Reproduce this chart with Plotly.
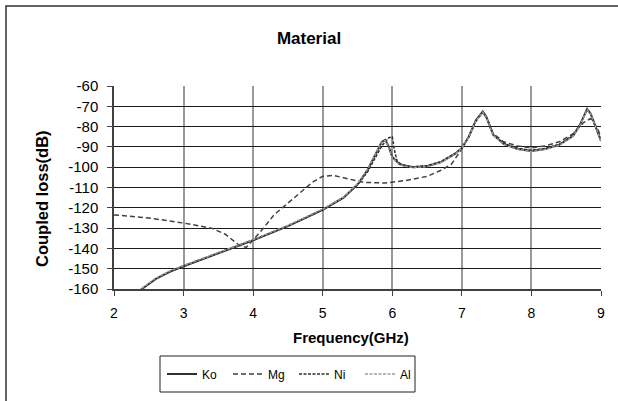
import plotly.graph_objects as go

# ---- data ----
ko_x = [2.35, 2.4, 2.6, 2.8, 3.0, 3.3, 3.6, 4.0, 4.5, 5.0, 5.3, 5.5, 5.65, 5.75, 5.85, 5.9,
        5.95, 6.0, 6.1, 6.3, 6.5, 6.7, 6.9, 7.0, 7.1, 7.2, 7.3, 7.35, 7.45, 7.6, 7.8, 8.0,
        8.2, 8.4, 8.6, 8.7, 8.8, 8.85, 8.95, 9.0]
ko_y = [-161.5, -160, -155, -151.5, -148.8, -145, -141, -136, -129, -121, -115, -108.5, -101, -94,
        -87.5, -86.5, -90, -95, -98.5, -100, -99.5, -97.5, -93.5, -90.5, -85, -77, -72.5, -75,
        -84, -88.5, -91, -92, -91, -89, -84.5, -79, -71.3, -73.5, -82.5, -87]

mg_x = [2.0, 2.5, 3.0, 3.4, 3.6, 3.8, 3.9, 4.0, 4.1, 4.3, 4.6, 4.85, 5.0, 5.15, 5.4, 5.6,
        5.9, 6.2, 6.5, 6.7, 6.85, 7.0, 7.1, 7.2, 7.3, 7.35, 7.45, 7.6, 7.8, 8.0, 8.2, 8.4,
        8.6, 8.75, 8.85, 8.95, 9.0]
mg_y = [-123.5, -125, -127.5, -130, -133, -138.5, -139.5, -136, -132, -123.5, -115, -107.5,
        -104.5, -104, -106, -107.5, -107.8, -106.5, -104.5, -101.5, -98.5, -91, -85, -77.5,
        -73, -75.5, -83.5, -87.5, -89.5, -90.5, -89.5, -87.5, -83.5, -78, -76, -81, -85]

ni_x = [2.35, 2.4, 2.6, 2.8, 3.0, 3.3, 3.6, 4.0, 4.5, 5.0, 5.3, 5.5, 5.65, 5.75, 5.85, 5.95,
        6.0, 6.03, 6.07, 6.15, 6.3, 6.5, 6.7, 6.9, 7.0, 7.1, 7.2, 7.3, 7.35, 7.45, 7.6, 7.8,
        8.0, 8.2, 8.4, 8.6, 8.7, 8.8, 8.85, 8.95, 9.0]
ni_y = [-161.5, -160, -155, -151.5, -148.5, -144.8, -140.8, -135.8, -128.8, -120.8, -114.8,
        -108.8, -102, -96, -89.5, -85.5, -85, -91.5, -97, -99.2, -99.8, -99.2, -97.2, -93.2,
        -90.5, -85, -77.2, -72.8, -75.2, -84, -88.2, -90.7, -91.7, -90.7, -88.7, -84.2, -78.8,
        -71.8, -73.8, -82.5, -87]

al_x = [2.35, 2.4, 2.6, 2.8, 3.0, 3.3, 3.6, 4.0, 4.5, 5.0, 5.3, 5.5, 5.65, 5.75, 5.85, 5.9,
        5.95, 6.0, 6.1, 6.3, 6.5, 6.7, 6.9, 7.0, 7.1, 7.2, 7.3, 7.35, 7.45, 7.6, 7.8, 8.0,
        8.2, 8.4, 8.6, 8.7, 8.8, 8.85, 8.95, 9.0]
al_y = [-161.2, -159.7, -154.7, -151.2, -148.5, -144.7, -140.7, -135.7, -128.7, -120.7, -114.7,
        -108.2, -100.7, -93.7, -87.3, -86.8, -90.5, -95.3, -98.8, -100.2, -99.7, -97.7, -93.7,
        -90.5, -85.2, -77.3, -72.8, -75.3, -84.3, -88.7, -91.2, -92.2, -91.2, -89.2, -84.7,
        -79.2, -71.6, -73.7, -82.7, -87.2]

x_ticks = [2, 3, 4, 5, 6, 7, 8, 9]
y_ticks = [-160, -150, -140, -130, -120, -110, -100, -90, -80, -70, -60]
y_tick_labels = ["-160", "-150", "-140", "-130", "-120", "-110", "-100", "-90", "-80", "-70", "-60"]

FONT = "Liberation Sans, Arial, sans-serif"

fig = go.Figure()
fig.add_trace(go.Scatter(x=ko_x, y=ko_y, name="Ko", mode="lines",
                         line=dict(color="#303030", width=2, dash="solid")))
fig.add_trace(go.Scatter(x=mg_x, y=mg_y, name="Mg", mode="lines",
                         line=dict(color="#404040", width=1.5, dash="5px,3px")))
fig.add_trace(go.Scatter(x=ni_x, y=ni_y, name="Ni", mode="lines",
                         line=dict(color="#303030", width=1.5, dash="3px,1.5px")))
fig.add_trace(go.Scatter(x=al_x, y=al_y, name="Al", mode="lines",
                         line=dict(color="#9a9a9a", width=1.5, dash="3px,1.5px")))

L, R, T, B = 114, 17, 86, 112
W, H = 618, 401
pw, ph = W - L - R, H - T - B


def px_x(px):
    return (px - L) / pw


def px_y(py):
    return (T + ph - py) / ph


fig.update_layout(
    width=W, height=H,
    margin=dict(l=L, r=R, t=T, b=B, pad=0),
    paper_bgcolor="white", plot_bgcolor="white",
    font=dict(family=FONT, color="black", size=13),
    title=dict(text="<b>Material</b>", x=0.5, xref="container", xanchor="center",
               y=1 - 38 / H, yref="container", yanchor="middle",
               font=dict(size=17, family=FONT, color="black")),
    xaxis=dict(range=[2, 9], tickvals=x_ticks, ticktext=[str(v) for v in x_ticks],
               showgrid=True, gridcolor="#9a9a9a", gridwidth=1.5,
               showline=True, linecolor="#404040", linewidth=1.5,
               ticks="outside", ticklen=5, tickcolor="#404040", tickwidth=1,
               zeroline=False, ticklabelstandoff=5,
               tickfont=dict(size=14, family=FONT)),
    yaxis=dict(range=[-160, -60], tickvals=y_ticks, ticktext=y_tick_labels,
               showgrid=True, gridcolor="#1a1a1a", gridwidth=1,
               showline=True, linecolor="#404040", linewidth=1.5,
               ticks="outside", ticklen=5, tickcolor="#404040", tickwidth=1,
               zeroline=False, ticklabelstandoff=6,
               tickfont=dict(size=15, family=FONT)),
    legend=dict(orientation="h", x=px_x(162), xanchor="left",
                y=px_y(374), yanchor="middle",
                borderwidth=0, bgcolor="rgba(0,0,0,0)",
                font=dict(size=12, family=FONT), itemwidth=30,
                entrywidth=21, entrywidthmode="pixels",
                tracegroupgap=0),
    showlegend=True,
    annotations=[
        dict(text="<b>Frequency(GHz)</b>", xref="paper", yref="paper",
             x=px_x(351), y=px_y(337), xanchor="center", yanchor="middle",
             showarrow=False, font=dict(size=15, family=FONT, color="black")),
        dict(text="<b>Coupled loss(dB)</b>", xref="paper", yref="paper",
             x=px_x(42), y=px_y(199), xanchor="center", yanchor="middle",
             textangle=-90, showarrow=False,
             font=dict(size=16.5, family=FONT, color="black")),
    ],
)

# legend box
fig.add_shape(type="rect", xref="paper", yref="paper",
              x0=px_x(160), x1=px_x(415), y0=px_y(392), y1=px_y(356),
              line=dict(color="#202020", width=1), fillcolor="rgba(0,0,0,0)")

# outer chart-area border: left and top edges only (the others fall outside the picture)
bx0, by0, by1, bx1 = px_x(6), px_y(H + 30), px_y(6), px_x(W + 30)
fig.add_shape(type="path", xref="paper", yref="paper",
              path=f"M {bx0},{by0} L {bx0},{by1} L {bx1},{by1}",
              line=dict(color="#303030", width=1.5), layer="below")

fig.write_html("out.html")
